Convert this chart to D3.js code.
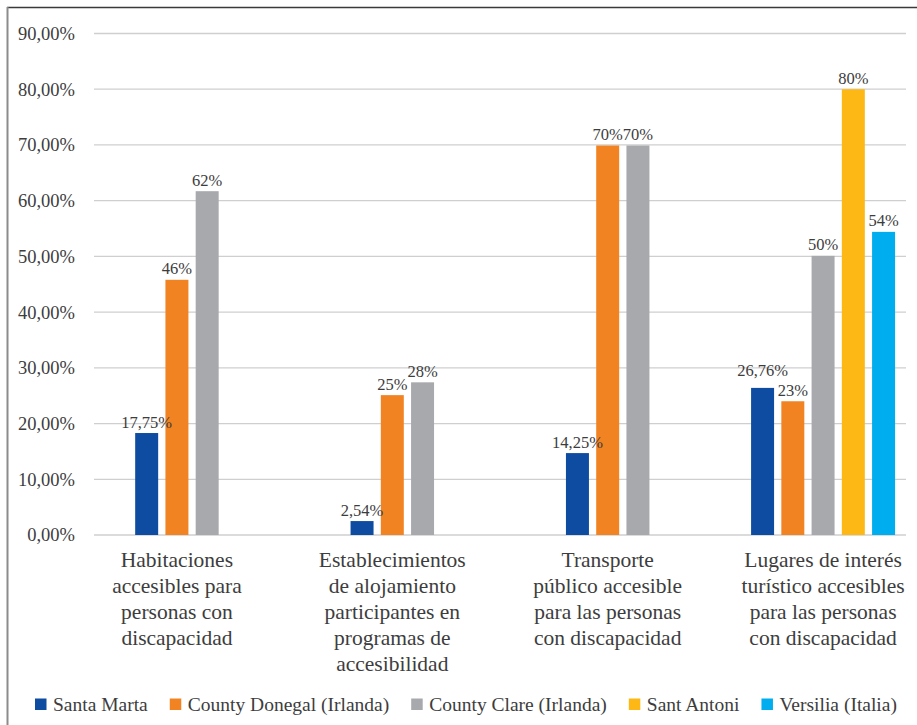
<!DOCTYPE html>
<html>
<head>
<meta charset="utf-8">
<script src="https://cdn.jsdelivr.net/npm/d3@7"></script>
<style>
  html, body { margin: 0; padding: 0; background: #fff; }
  svg { display: block; }
</style>
</head>
<body>
<svg id="chart" width="917" height="725"></svg>
<script>
// ---- data ----
const categories = [
  "Habitaciones accesibles para personas con discapacidad",
  "Establecimientos de alojamiento participantes en programas de accesibilidad",
  "Transporte público accesible para las personas con discapacidad",
  "Lugares de interés turístico accesibles para las personas con discapacidad"
];
const categoryLines = [
  ["Habitaciones", "accesibles para", "personas con", "discapacidad"],
  ["Establecimientos", "de alojamiento", "participantes en", "programas de", "accesibilidad"],
  ["Transporte", "público accesible", "para las personas", "con discapacidad"],
  ["Lugares de interés", "turístico accesibles", "para las personas", "con discapacidad"]
];
const seriesNames = ["Santa Marta", "County Donegal (Irlanda)", "County Clare (Irlanda)", "Sant Antoni", "Versilia (Italia)"];
const seriesColors = ["#0d4ca0", "#f28322", "#a8a9ac", "#fdb815", "#00adee"];
const santaMarta   = [18.3, 2.5, 14.7, 26.4];
const donegal      = [45.8, 25.1, 69.9, 24.0];
const clare        = [61.7, 27.4, 69.9, 50.1];
const santAntoni   = [null, null, null, 80.0];
const versilia     = [null, null, null, 54.4];
const santaMartaLabels = ["17,75%", "2,54%", "14,25%", "26,76%"];
const donegalLabels    = ["46%", "25%", "70%", "23%"];
const clareLabels      = ["62%", "28%", "70%", "50%"];
const santAntoniLabels = [null, null, null, "80%"];
const versiliaLabels   = [null, null, null, "54%"];
const yTicks = [0, 10, 20, 30, 40, 50, 60, 70, 80, 90];

const seriesValues = [santaMarta, donegal, clare, santAntoni, versilia];
const seriesLabels = [santaMartaLabels, donegalLabels, clareLabels, santAntoniLabels, versiliaLabels];

// ---- layout ----
const svg = d3.select("#chart");
const FONT = "Liberation Serif";
const TXT = "#3d3d3d";
const plotLeft = 94, plotRight = 906, plotTop = 33.5, plotBottom = 535;

const y = d3.scaleLinear().domain([0, 90]).range([plotBottom, plotTop]);
const x0 = d3.scalePoint().domain(categories).range([plotLeft, plotRight]).padding(0.385);
const step = 30.25;

// frame
svg.append("line").attr("x1", 7).attr("x2", 917).attr("y1", 7.5).attr("y2", 7.5)
  .attr("stroke", "#3a3a3a").attr("stroke-width", 1.3);
svg.append("line").attr("x1", 7.5).attr("x2", 7.5).attr("y1", 7).attr("y2", 725)
  .attr("stroke", "#8c8c8c").attr("stroke-width", 2);

// gridlines
svg.append("g").selectAll("line").data(yTicks).join("line")
  .attr("x1", plotLeft).attr("x2", plotRight)
  .attr("y1", d => y(d)).attr("y2", d => y(d))
  .attr("stroke", "#cfcfcf").attr("stroke-width", 1.3);

// y tick labels
const fmt = v => v.toFixed(2).replace(".", ",") + "%";
svg.append("g").selectAll("text").data(yTicks).join("text")
  .attr("x", 75).attr("y", d => y(d)).attr("dy", "0.35em")
  .attr("text-anchor", "end").attr("font-family", FONT).attr("font-size", 18.5).attr("fill", TXT)
  .text(fmt);

// bars + data labels
const gBars = svg.append("g");
const gLabels = svg.append("g");
categories.forEach((cat, ci) => {
  const present = seriesNames.map((s, si) => si).filter(si => seriesValues[si][ci] != null);
  const n = present.length;
  const x1 = d3.scaleBand().domain(present)
    .range([-n * step / 2, n * step / 2]).paddingInner(0.24).paddingOuter(0.12);
  const cx = x0(cat);
  const labs = [];
  present.forEach(si => {
    const v = seriesValues[si][ci];
    gBars.append("rect")
      .attr("x", cx + x1(si)).attr("width", x1.bandwidth())
      .attr("y", y(v)).attr("height", y(0) - y(v))
      .attr("fill", seriesColors[si]);
    const t = gLabels.append("text")
      .attr("x", cx + x1(si) + x1.bandwidth() / 2)
      .attr("y", y(v) - 5.5)
      .attr("text-anchor", "middle").attr("font-family", FONT).attr("font-size", 16.5).attr("fill", TXT)
      .text(seriesLabels[si][ci]);
    labs.push(t);
  });
  // simple collision avoidance between neighbouring labels at different heights
  for (let i = 0; i < labs.length - 1; i++) {
    const a = labs[i], b = labs[i + 1];
    const ba = a.node().getBBox(), bb = b.node().getBBox();
    const ya = +a.attr("y"), yb = +b.attr("y");
    const hOverlap = ba.x + ba.width - bb.x;
    if (hOverlap > 1 && ya !== yb && Math.abs(ya - yb) < 20) {
      if (ya < yb) a.attr("y", yb - 20); else b.attr("y", ya - 20);
    }
  }
});

// category labels
const gCat = svg.append("g");
categories.forEach((cat, ci) => {
  const t = gCat.append("text").attr("text-anchor", "middle")
    .attr("font-family", FONT).attr("font-size", 21.5).attr("fill", TXT);
  categoryLines[ci].forEach((ln, li) => {
    t.append("tspan").attr("x", x0(cat)).attr("y", 567 + li * 26).text(ln);
  });
});

// legend
const gLeg = svg.append("g");
let lx = 35;
seriesNames.forEach((name, si) => {
  gLeg.append("rect").attr("x", lx).attr("y", 698.5).attr("width", 11.5).attr("height", 11.5)
    .attr("fill", seriesColors[si]);
  const t = gLeg.append("text").attr("x", lx + 18).attr("y", 711)
    .attr("font-family", FONT).attr("font-size", 19.5).attr("fill", TXT).text(name);
  lx += 18 + t.node().getComputedTextLength() + 22;
});
</script>
</body>
</html>
